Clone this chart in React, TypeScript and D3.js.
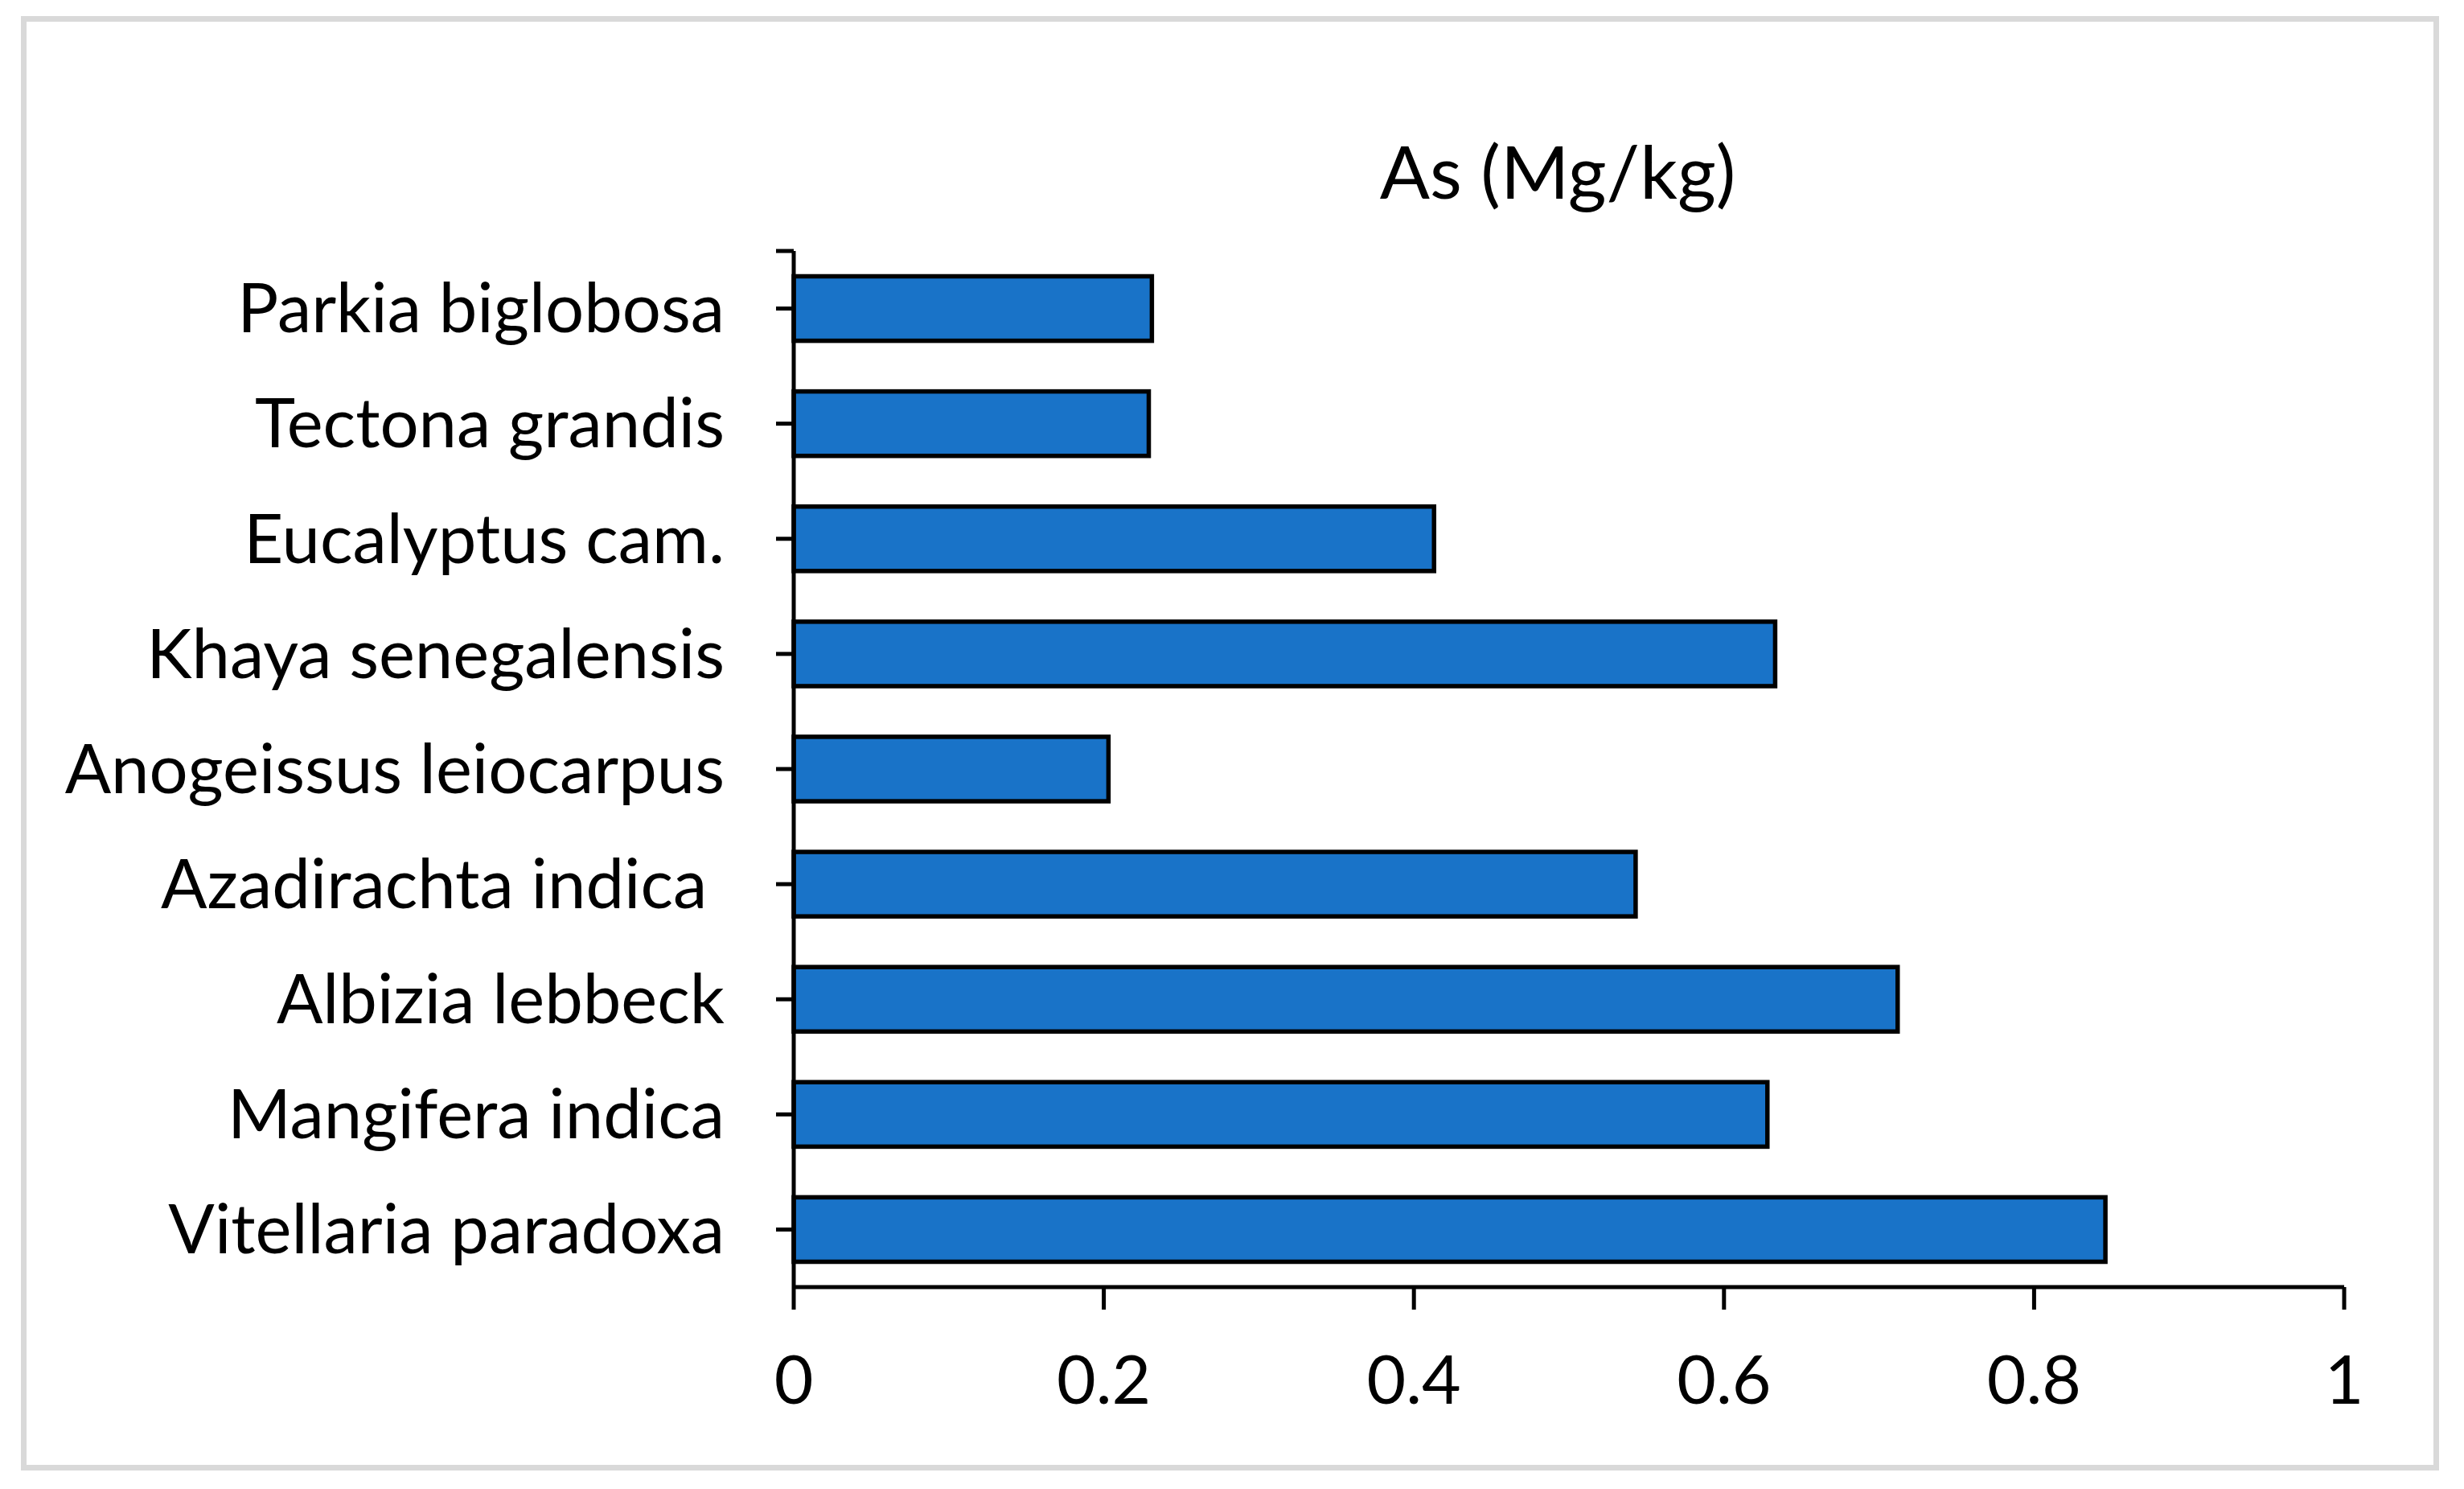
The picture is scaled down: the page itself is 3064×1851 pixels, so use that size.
import React from "react";
import * as d3 from "d3";

const categories = [
  "Parkia biglobosa",
  "Tectona grandis",
  "Eucalyptus cam.",
  "Khaya senegalensis",
  "Anogeissus leiocarpus",
  "Azadirachta indica ",
  "Albizia lebbeck",
  "Mangifera indica",
  "Vitellaria paradoxa",
];
const values = [0.231, 0.229, 0.413, 0.633, 0.203, 0.543, 0.712, 0.628, 0.846];
const xTicks = [0, 0.2, 0.4, 0.6, 0.8, 1];
const title = "As (Mg/kg)";

const W = 3064;
const H = 1851;
const FONT = "Lato, 'Open Sans', sans-serif";

export default function App() {
  const x0 = 987;
  const x1 = 2915;
  const yTop = 312;
  const yBot = 1600;
  const x = d3.scaleLinear().domain([0, 1]).range([x0, x1]);
  const y = d3.scaleBand<string>().domain(categories).range([yTop, yBot]).paddingInner(0.44).paddingOuter(0.22);
  const band = (yBot - yTop) / categories.length;
  const centers = categories.map((_, i) => yTop + band * (i + 0.5));

  return (
    <svg width={W} height={H} style={{ position: "absolute", left: 0, top: 0, background: "#fff" }}>
      <rect x={29.5} y={23.5} width={3000} height={1801} fill="#fff" stroke="#d9d9d9" strokeWidth={7} />
      <text x={(x0 + x1) / 2 - 14} y={247} fontFamily={FONT} fontSize={92} textAnchor="middle" fill="#000">
        {title}
      </text>
      {categories.map((c, i) => (
        <rect
          key={c}
          x={x(0)}
          y={y(c)!}
          width={x(values[i]) - x(0)}
          height={y.bandwidth()}
          fill="#1973c8"
          stroke="#000"
          strokeWidth={5.5}
        />
      ))}
      {/* y axis */}
      <line x1={x0} x2={x0} y1={yTop} y2={yBot} stroke="#000" strokeWidth={5} />
      <line x1={x0 - 22} x2={x0} y1={yTop} y2={yTop} stroke="#000" strokeWidth={5} />
      {centers.map((cy, i) => (
        <g key={i}>
          <line x1={x0 - 22} x2={x0} y1={cy} y2={cy} stroke="#000" strokeWidth={5} />
          <text
            x={901}
            y={cy}
            dy="0.35em"
            fontFamily={FONT}
            fontSize={85}
            textAnchor="end"
            fill="#000"
            style={{ whiteSpace: "pre" }}
          >
            {categories[i]}
          </text>
        </g>
      ))}
      {/* x axis */}
      <line x1={x0} x2={x1} y1={yBot} y2={yBot} stroke="#000" strokeWidth={5} />
      {xTicks.map((t) => (
        <g key={t}>
          <line x1={x(t)} x2={x(t)} y1={yBot} y2={yBot + 28} stroke="#000" strokeWidth={5} />
          <text x={x(t)} y={1745} fontFamily={FONT} fontSize={84} textAnchor="middle" fill="#000">
            {String(t)}
          </text>
        </g>
      ))}
    </svg>
  );
}
